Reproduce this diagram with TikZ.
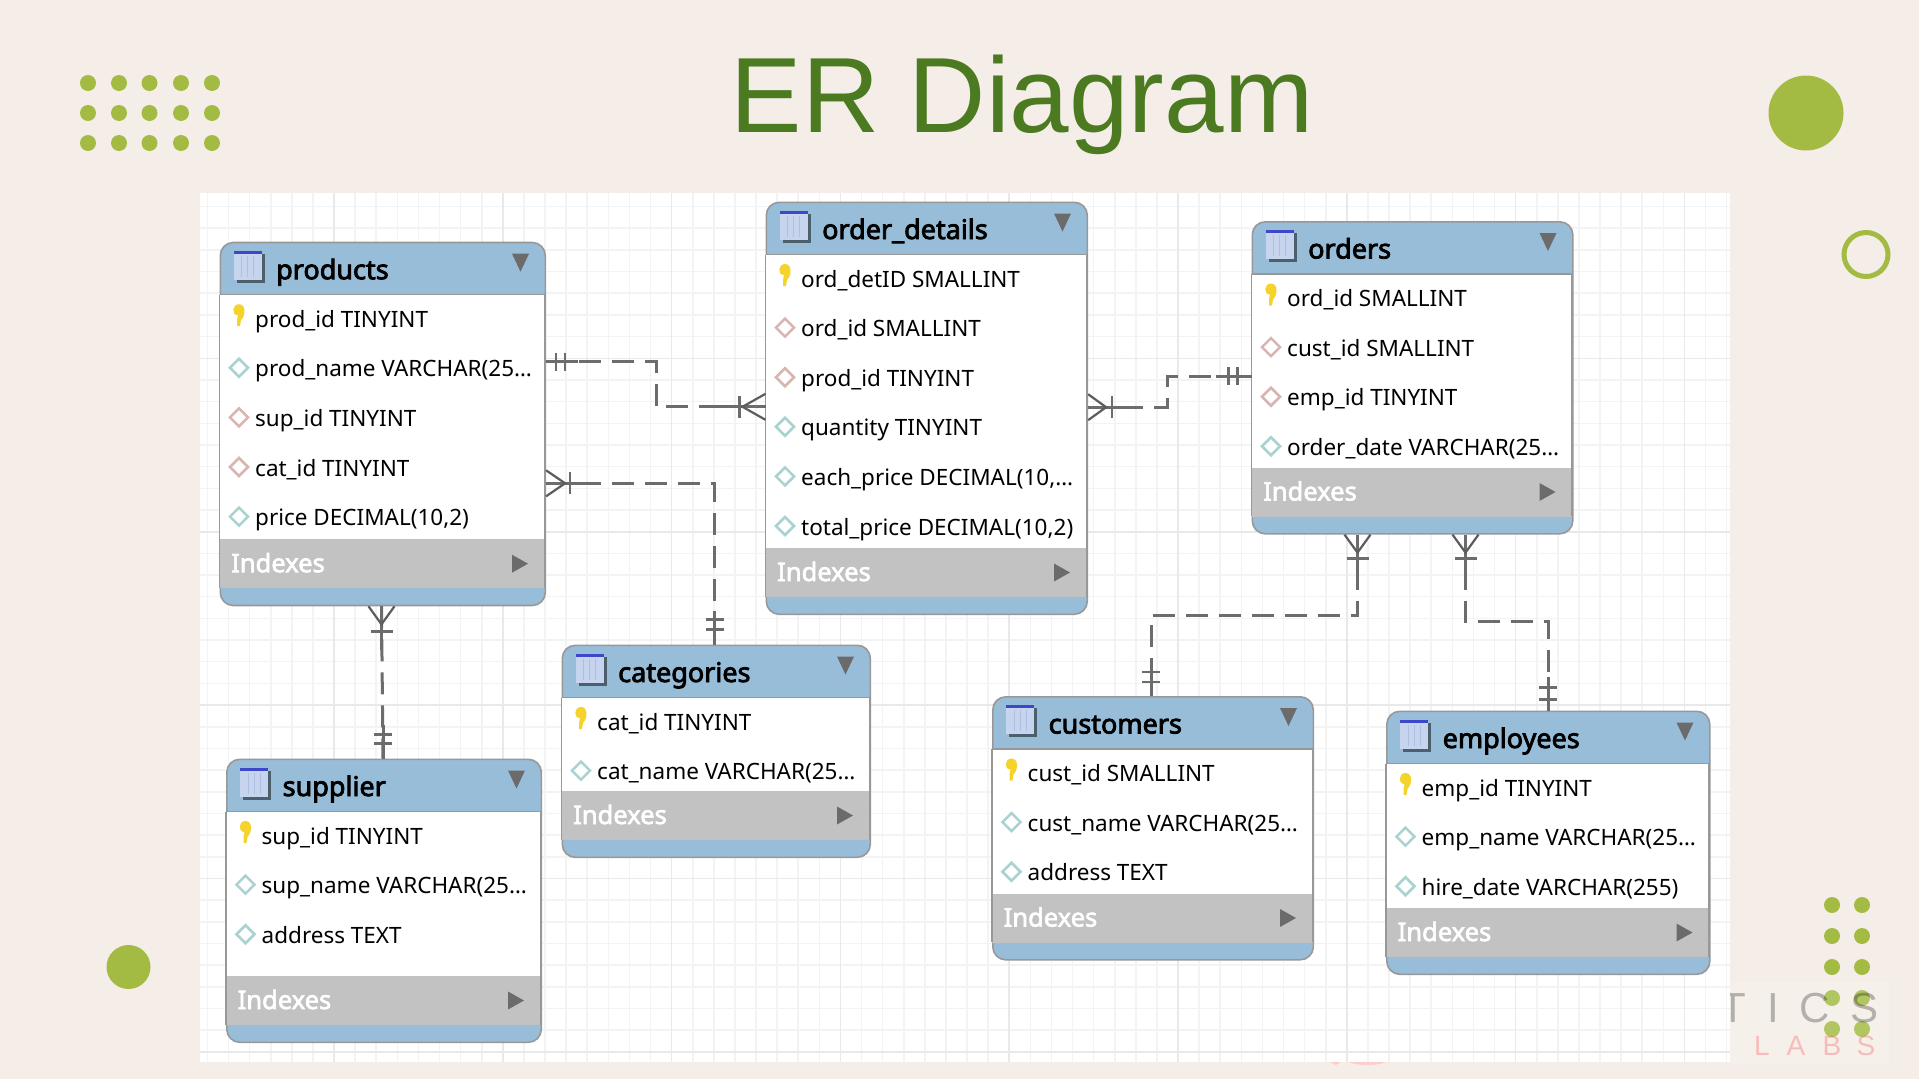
\documentclass[tikz,border=0pt]{standalone}
\usepackage{fontspec}
\setmainfont{Noto Sans}
\newfontfamily\titlefont{Liberation Sans}
\newfontfamily\headfont[FakeBold=3]{Noto Sans}
\newfontfamily\idxfont[FakeBold=2.5]{Noto Sans}
\usetikzlibrary{calc}
\definecolor{pagebg}{HTML}{F5EEE8}
\definecolor{leaf}{HTML}{A3BB43}
\definecolor{titlegreen}{HTML}{4B7A20}
\definecolor{headblue}{HTML}{98BDD8}
\definecolor{idxgray}{HTML}{C2C2C2}
\definecolor{edgegray}{HTML}{989898}
\definecolor{linkgray}{HTML}{6C6C6C}
\definecolor{gridminor}{HTML}{F3F3F3}
\definecolor{gridmajor}{HTML}{E9E9E9}
\definecolor{tealdia}{HTML}{A9D2D0}
\definecolor{pinkdia}{HTML}{D9B5B2}
\definecolor{keyyellow}{HTML}{F6D32B}
\definecolor{iconbody}{HTML}{C6D4EE}
\definecolor{iconline}{HTML}{AEBFE2}
\definecolor{iconbar}{HTML}{3C48C8}
\tikzset{
  x=1pt,y=-1pt,
  tablebox/.style={draw=edgegray,line width=1.6pt,fill=headblue,rounded corners=13pt,inner sep=0pt,anchor=north west},
  rowtxt/.style={inner sep=0pt,anchor=base west,font=\fontsize{22.5}{24}\selectfont,text=black},
  headtxt/.style={inner sep=0pt,anchor=base west,font=\headfont\fontsize{27}{30}\selectfont,text=black},
  idxtxt/.style={inner sep=0pt,anchor=base west,font=\idxfont\fontsize{25.5}{28}\selectfont,text=white},
  link/.style={draw=linkgray,line width=3pt,dash pattern=on 22pt off 11pt},
  stub/.style={draw=linkgray,line width=3pt},
  barline/.style={draw=linkgray,line width=2.6pt},
  crow/.style={draw=linkgray!85!black,line width=2.2pt},
  dot/.style={fill=leaf,draw=none},
}
\newcommand\rowiconk[2]{\fill[keyyellow] (#1-1,#2-4) .. controls (#1-8,#2-4) and (#1-7,#2-15) .. (#1,#2-15) .. controls (#1+7,#2-15) and (#1+7,#2-4) .. (#1+2,#2+1) -- (#1+1,#2+7) -- (#1-2,#2+7) -- (#1-2,#2+1) -- cycle;}
\newcommand\rowicont[2]{\draw[tealdia,line width=2.6pt,fill=white] (#1-9,#2-1) -- (#1,#2-10) -- (#1+9,#2-1) -- (#1,#2+8) -- cycle;}
\newcommand\rowiconp[2]{\draw[pinkdia,line width=2.6pt,fill=white] (#1-9,#2-1) -- (#1,#2-10) -- (#1+9,#2-1) -- (#1,#2+8) -- cycle;}
% name, left, top, width, rows height, title, rows
\newcommand\ertable[7]{%
  \pgfmathsetmacro\tb{53+#5+48+17}%
  \node[tablebox,minimum width=#4pt,minimum height=\tb pt] (#1) at (#2,#3) {};
  \fill[white] (#2,#3+53) rectangle (#2+#4,#3+53+#5);
  \fill[idxgray] (#2,#3+53+#5) rectangle (#2+#4,#3+53+#5+48);
  \draw[edgegray,line width=1.2pt] (#2,#3+53) -- (#2+#4,#3+53);
  \draw[edgegray!60,line width=1pt] (#2,#3+53+#5) -- (#2+#4,#3+53+#5);
  \draw[edgegray!60,line width=1pt] (#2,#3+53+#5+48) -- (#2+#4,#3+53+#5+48);
  \draw[edgegray,line width=1.6pt] (#2,#3+53) -- (#2,#3+53+#5+48) (#2+#4,#3+53) -- (#2+#4,#3+53+#5+48);
  \fill[black!50!headblue] (#2+17,#3+12) rectangle (#2+45,#3+41);
  \fill[iconbody] (#2+14,#3+9) rectangle (#2+42,#3+38);
  \fill[iconbar] (#2+14,#3+9) rectangle (#2+42,#3+12);
  \foreach \k in {8,14,20}{\draw[iconline,line width=1pt] (#2+14+\k,#3+14) -- (#2+14+\k,#3+35);}
  \node[headtxt] (#1-title) at (#2+56.5,#3+37.5) {#6};
  \fill[black!58] (#2+#4-32.5,#3+12) -- (#2+#4-15.5,#3+12) -- (#2+#4-24,#3+30) -- cycle;
  \node[idxtxt] (#1-idx) at (#2+11.5,#3+53+#5+32.5) {Indexes};
  \fill[black!58] (#2+#4-32.5,#3+53+#5+15) -- (#2+#4-16.5,#3+53+#5+24) -- (#2+#4-32.5,#3+53+#5+33) -- cycle;
  \foreach \ty/\tx [count=\ri from 0] in {#7}{%
    \pgfmathsetmacro\ry{#3+53+24.5+\ri*49.6}%
    \csname rowicon\ty\endcsname{#2+19.5}{\ry}%
    \node[rowtxt] (#1-row\ri) at (#2+35.5,\ry+8) {\tx};
  }%
}
\newcommand\ustr{\textunderscore}
\begin{document}
\begin{tikzpicture}
\useasboundingbox (0,0) rectangle (1919,1079);
\fill[pagebg] (0,0) rectangle (1919,1079);
\fill[white] (199.5,193) rectangle (1730,1062);
\begin{scope}
\clip (199.5,193) rectangle (1730,1062);
\foreach \i in {-6,...,72}{\draw[gridminor,line width=1.6pt] (334+\i*21.1,193) -- (334+\i*21.1,1062);}
\foreach \j in {-8,...,33}{\draw[gridminor,line width=1.6pt] (199.5,358.3+\j*21.67) -- (1730,358.3+\j*21.67);}
\foreach \i in {-1,...,9}{\draw[gridmajor,line width=1.6pt] (334+\i*168.8,193) -- (334+\i*168.8,1062);}
\foreach \j in {-1,...,4}{\draw[gridmajor,line width=1.6pt] (199.5,358.3+\j*173.4) -- (1730,358.3+\j*173.4);}
\end{scope}
\fill[pink!70!pagebg] (1330,1062) -- (1341,1062) -- (1336,1065) -- cycle;
\fill[pink!70!pagebg] (1348,1062) -- (1386,1062) .. controls (1378,1066) and (1358,1066) .. (1348,1062) -- cycle;
\node[inner sep=0pt,font=\titlefont\fontsize{107}{110}\selectfont,text=titlegreen,anchor=base] (title) at (1022,132) {ER Diagram};
\foreach \x in {88,119,149.5,181,212}{\foreach \y in {83,113,143}{\fill[dot] (\x,\y) circle[radius=8];}}
\foreach \x in {1832,1862}{\foreach \y in {905,936,967,998,1029}{\fill[dot] (\x,\y) circle[radius=8];}}
\fill[dot] (1806,113) circle[radius=37.5];
\draw[leaf,line width=5pt] (1866,254.5) circle[radius=22];
\fill[dot] (128.5,967) circle[radius=22];
\fill[white,opacity=.16] (1730,982) rectangle (1889,1065);
\begin{scope}
\clip (1730,975) rectangle (1919,1079);
\foreach \gx/\gl in {1733/T,1773/I,1815/C,1864/S}{\node[inner sep=0pt,text=black,opacity=.27,font=\titlefont\fontsize{42}{44}\selectfont] at (\gx,1008) {\gl};}
\foreach \gx/\gl in {1762/L,1796/A,1832/B,1866/S}{\node[inner sep=0pt,text=red!70!pagebg,opacity=.3,font=\titlefont\fontsize{28}{30}\selectfont] at (\gx,1046) {\gl};}
\end{scope}
\ertable{products}{219.5}{241.7}{325}{245}{products}{k/prod\ustr id TINYINT,t/prod\ustr name VARCHAR(25…,p/sup\ustr id TINYINT,p/cat\ustr id TINYINT,t/{price DECIMAL(10,2)}}
\ertable{orderdetails}{765.5}{201.5}{321}{294}{order\ustr details}{k/ord\ustr detID SMALLINT,p/ord\ustr id SMALLINT,p/prod\ustr id TINYINT,t/quantity TINYINT,t/{each\ustr price DECIMAL(10,…},t/{total\ustr price DECIMAL(10,2)}}
\ertable{orders}{1251.5}{221}{320.5}{194}{orders}{k/ord\ustr id SMALLINT,p/cust\ustr id SMALLINT,p/emp\ustr id TINYINT,t/order\ustr date VARCHAR(25…}
\ertable{categories}{561.5}{644.5}{308}{94}{categories}{k/cat\ustr id TINYINT,t/cat\ustr name VARCHAR(25…}
\ertable{customers}{992}{696}{320.5}{145}{customers}{k/cust\ustr id SMALLINT,t/cust\ustr name VARCHAR(25…,t/address TEXT}
\ertable{employees}{1386}{710.5}{323}{145}{employees}{k/emp\ustr id TINYINT,t/emp\ustr name VARCHAR(25…,t/hire\ustr date VARCHAR(255)}
\ertable{supplier}{226}{758.5}{314.5}{165}{supplier}{k/sup\ustr id TINYINT,t/sup\ustr name VARCHAR(25…,t/address TEXT}
\coordinate (p1) at ([yshift=-120pt]products.north east);
\coordinate (o1) at ([yshift=-205.3pt]orderdetails.north west);
\coordinate (p2) at ([yshift=-241.6pt]products.north east);
\coordinate (c2) at ([xshift=153pt]categories.north west);
\coordinate (p3) at ([xshift=162pt]products.south west);
\coordinate (s3) at ([xshift=157pt]supplier.north west);
\coordinate (o4) at ([yshift=-205.7pt]orderdetails.north east);
\coordinate (r4) at ([yshift=-155.2pt]orders.north west);
\coordinate (r5) at ([xshift=106pt]orders.south west);
\coordinate (m5) at ([xshift=159pt]customers.north west);
\coordinate (r6) at ([xshift=214pt]orders.south west);
\coordinate (e6) at ([xshift=162pt]employees.north west);
\draw[link] (p1) -- ++(110,0) |- (o1);
\draw[link] (p2) -| (c2);
\draw[link] (p3) -- (s3);
\draw[link] (o4) -- ++(79,0) |- (r4);
\draw[link] (r5) -- ++(0,81) -| (m5);
\draw[link] (r6) -- ++(0,87) -| (e6);
\draw[stub] (p1) -- ++(32,0);
\draw[stub] (o1) -- ++(-46,0);
\draw[stub] (p2) -- ++(38,0);
\draw[stub] (c2) -- ++(0,-34);
\draw[stub] (p3) -- ++(0,44);
\draw[stub] (s3) -- ++(0,-34);
\draw[stub] (o4) -- ++(38,0);
\draw[stub] (r4) -- ++(-36,0);
\draw[stub] (r5) -- ++(0,44);
\draw[stub] (m5) -- ++(0,-34);
\draw[stub] (r6) -- ++(0,44);
\draw[stub] (e6) -- ++(0,-34);
\draw[barline] ($(p1)+(10,-9)$) -- ++(0,18) ($(p1)+(19,-9)$) -- ++(0,18);
\draw[crow] ($(o1)+(0,-13)$) -- ++(-23,13) -- ++(23,13);
\draw[barline] ($(o1)+(-26,-11)$) -- ++(0,22);
\draw[crow] ($(p2)+(0,-13)$) -- ++(19,13) -- ++(-19,13);
\draw[barline] ($(p2)+(24,-11)$) -- ++(0,22);
\draw[barline] ($(c2)+(-9,-25)$) -- ++(18,0) ($(c2)+(-9,-15)$) -- ++(18,0);
\draw[crow] ($(p3)+(-13,0)$) -- ++(13,18) -- ++(13,-18);
\draw[barline] ($(p3)+(-11,25)$) -- ++(22,0);
\draw[barline] ($(s3)+(-9,-24)$) -- ++(18,0) ($(s3)+(-9,-15)$) -- ++(18,0);
\draw[crow] ($(o4)+(0,-13)$) -- ++(18,13) -- ++(-18,13);
\draw[barline] ($(o4)+(24,-11)$) -- ++(0,22);
\draw[barline] ($(r4)+(-23,-9)$) -- ++(0,18) ($(r4)+(-14,-9)$) -- ++(0,18);
\draw[crow] ($(r5)+(-13,0)$) -- ++(13,18) -- ++(13,-18);
\draw[barline] ($(r5)+(-11,24)$) -- ++(22,0);
\draw[barline] ($(m5)+(-9,-24)$) -- ++(18,0) ($(m5)+(-9,-14)$) -- ++(18,0);
\draw[crow] ($(r6)+(-13,0)$) -- ++(13,18) -- ++(13,-18);
\draw[barline] ($(r6)+(-11,24)$) -- ++(22,0);
\draw[barline] ($(e6)+(-9,-23)$) -- ++(18,0) ($(e6)+(-9,-11)$) -- ++(18,0);
\end{tikzpicture}
\end{document}
